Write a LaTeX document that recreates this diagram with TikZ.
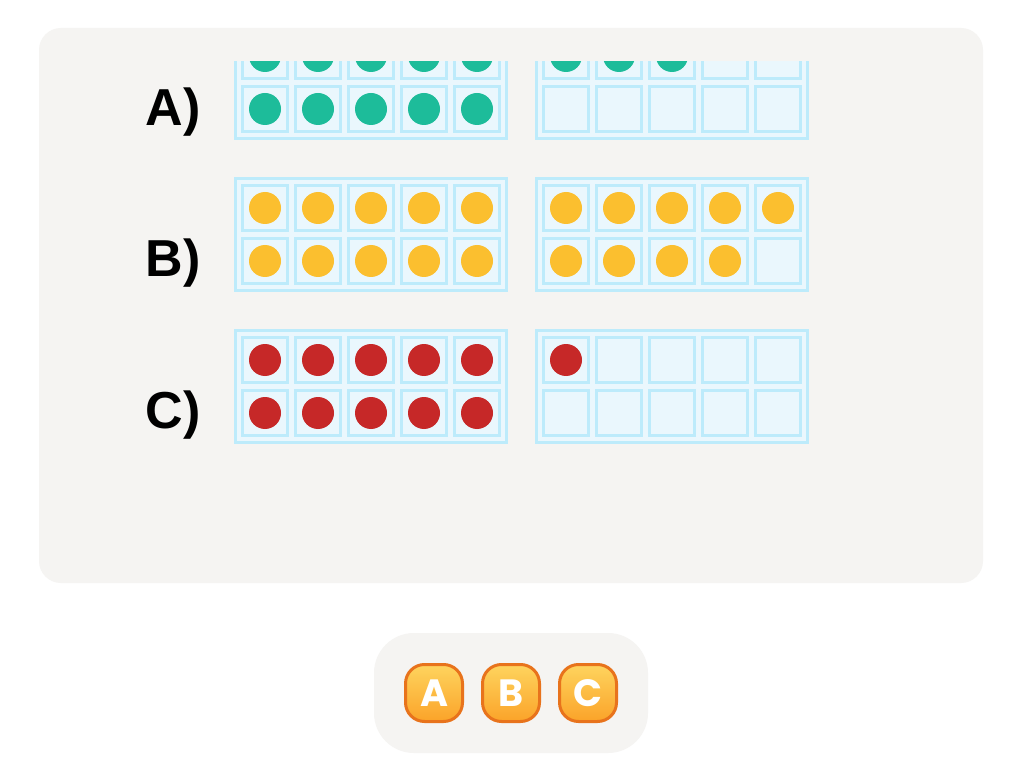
\documentclass[tikz,border=0pt]{standalone}
\usepackage{fontspec}
\setmainfont{Liberation Sans}
\newfontfamily\btnfont{Poppins}

\definecolor{panelgray}{HTML}{F5F4F2}
\definecolor{framefill}{HTML}{EAF7FD}
\definecolor{frameline}{HTML}{BDEBFB}
\definecolor{dotteal}{HTML}{1DBC9A}
\definecolor{dotyellow}{HTML}{FBBF2F}
\definecolor{dotred}{HTML}{C62828}
\definecolor{btnedge}{HTML}{E8731C}
\definecolor{btntop}{HTML}{FED45E}
\definecolor{btnbot}{HTML}{FBA329}

\tikzset{
  boxline/.style={draw=frameline, fill=framefill, line width=3pt},
  rowlabel/.style={font=\fontsize{52}{60}\selectfont\bfseries, inner sep=0pt},
  btn/.style={draw=btnedge, line width=3pt, rounded corners=19pt,
    top color=btntop, bottom color=btnbot, minimum size=57pt, inner sep=0pt,
    font=\btnfont\bfseries\fontsize{38}{42}\selectfont, text=white}
}

% ten-frame: #1,#2 = outer top left corner, #3 = filled dots, #4 = dot colour
\newcommand{\tenframe}[4]{%
  \draw[boxline] (#1+1.5, #2+1.5) rectangle (#1+272.5, #2+113.5);
  \foreach \k in {0,...,9} {
    \pgfmathtruncatemacro{\ci}{mod(\k,5)}
    \pgfmathtruncatemacro{\cj}{int(\k/5)}
    \draw[boxline] (#1+8.5+53*\ci, #2+8.5+53*\cj) rectangle +(45, 45);
    \ifnum\k<#3
      \fill[#4] (#1+31+53*\ci, #2+31+53*\cj) circle (16);
    \fi
  }
}

\begin{document}
\begin{tikzpicture}[x=1pt, y=-1pt]
\useasboundingbox[fill=white] (0,0) rectangle (1022,783);

% question panel
\fill[panelgray, rounded corners=22pt] (39,28) rectangle (983,583);

% row A is scrolled, cut at the top
\begin{scope}
  \clip (39,62) rectangle (983,583);
  \tenframe{234}{25}{10}{dotteal}
  \tenframe{535}{25}{3}{dotteal}
\end{scope}
\node[rowlabel] (labA) at (173,112) {A)};

% row B
\tenframe{234}{177}{10}{dotyellow}
\tenframe{535}{177}{9}{dotyellow}
\node[rowlabel] (labB) at (173,263) {B)};

% row C
\tenframe{234}{329}{10}{dotred}
\tenframe{535}{329}{1}{dotred}
\node[rowlabel] (labC) at (173,415) {C)};

% answer buttons
\fill[panelgray, rounded corners=40pt] (374,633) rectangle (648,753);
\node[btn] (btnA) at (434,693) {A};
\node[btn] (btnB) at (511,693) {B};
\node[btn] (btnC) at (588,693) {C};
\end{tikzpicture}
\end{document}
